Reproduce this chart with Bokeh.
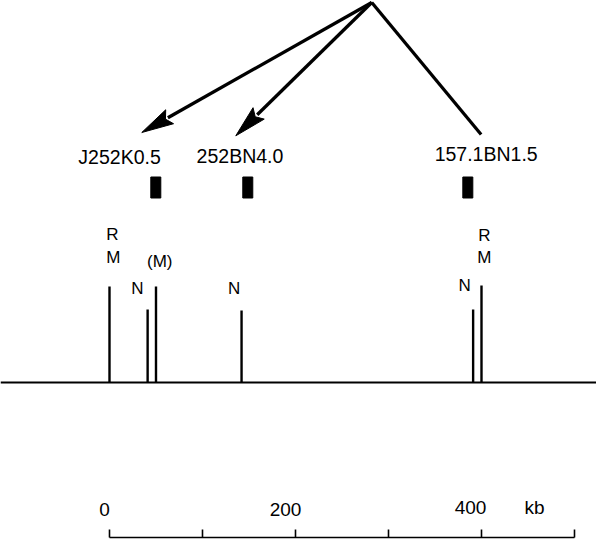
import numpy as np
from bokeh.plotting import figure
from bokeh.models import Range1d, Span, ColumnDataSource
from bokeh.core.properties import value
from bokeh.embed import file_html
from bokeh.resources import INLINE

# ---------------- data ----------------
# restriction sites on the map (kb) and drawn heights
site_kb = [0, 41, 50, 142, 391, 400]
site_height = [96, 73, 96, 72, 73, 97]

# site annotations
site_label_text = ["R", "M", "N", "(M)", "N", "N", "R", "M"]
site_label_kb = [3, 4, 30, 54, 134, 382, 403, 403]
site_label_y = [148, 125, 94, 121, 94, 97, 147, 125]

# probes
probe_names = ["J252K0.5", "252BN4.0", "157.1BN1.5"]
probe_kb = [49.8, 148.7, 385.3]
probe_label_kb = [10.8, 140.3, 405.0]
probe_label_y = [226, 227, 229]

# tree / arrows from apex to probes
apex_kb, apex_y = 282, 380
branch_kb = [34.7, 135.8, 399.6]
branch_y = [250, 246.7, 248]
branch_arrow = [True, True, False]

# scale bar
scale_ticks = [0, 100, 200, 300, 400, 500]
scale_label_text = ["0", "200", "400"]
scale_label_kb = [0, 200, 400]
scale_unit = "kb"

# ---------------- figure ----------------
W, H = 596, 539
X0, X1 = -117.2, 523.66
Y0, Y1 = -157, 382
p = figure(width=W, height=H, output_backend="svg", toolbar_location=None,
           x_range=Range1d(X0, X1), y_range=Range1d(Y0, Y1),
           x_axis_location=None, y_axis_location=None, min_border=0,
           tools="")
p.grid.visible = False
p.outline_line_color = None
p.background_fill_color = "white"

px_per_kb = W / (X1 - X0)
px_per_y = H / (Y1 - Y0)

FONT = value("Liberation Sans")

# baseline
p.add_layout(Span(location=0, dimension="width", line_color="black", line_width=2))

# sites
p.segment(x0=site_kb, y0=[0] * len(site_kb), x1=site_kb, y1=site_height,
          line_color="black", line_width=2.4)

p.text(x=site_label_kb, y=site_label_y, text=site_label_text,
       text_font=FONT, text_font_size="17px", text_align="center",
       text_baseline="middle", text_color="black")

# probe boxes and labels
p.rect(x=probe_kb, y=[195] * len(probe_kb), width=10, height=21,
       width_units="screen", height_units="screen",
       fill_color="black", line_color="black")
p.text(x=probe_label_kb, y=probe_label_y, text=probe_names,
       text_font=FONT, text_font_size="19.5px", text_align="center",
       text_baseline="middle", text_color="black")

# branches with arrowheads
L, HW = 32, 8
seg_x1, seg_y1, heads_x, heads_y = [], [], [], []
for bx, by, arrow in zip(branch_kb, branch_y, branch_arrow):
    dxp = (apex_kb - bx) * px_per_kb
    dyp = (apex_y - by) * px_per_y
    d = np.hypot(dxp, dyp)
    ux, uy = dxp / d, dyp / d
    nx, ny = -uy, ux
    if arrow:
        backx, backy = L * ux, L * uy
        sx = bx + (backx - 2 * ux) / px_per_kb
        sy = by + (backy - 2 * uy) / px_per_y
        seg_x1.append(sx)
        seg_y1.append(sy)
        pts = [(0, 0), (backx + HW * nx, backy + HW * ny),
               (backx * 0.85, backy * 0.85), (backx - HW * nx, backy - HW * ny)]
        heads_x.append([bx + px / px_per_kb for px, _ in pts])
        heads_y.append([by + py / px_per_y for _, py in pts])
    else:
        seg_x1.append(bx)
        seg_y1.append(by)

p.segment(x0=[apex_kb] * len(seg_x1), y0=[apex_y] * len(seg_y1), x1=seg_x1, y1=seg_y1,
          line_color="black", line_width=3.3)
p.patches(xs=heads_x, ys=heads_y, fill_color="black", line_color="black", line_width=1)

# scale bar
BAR_Y = -155
p.segment(x0=[scale_ticks[0]], y0=[BAR_Y], x1=[scale_ticks[-1]], y1=[BAR_Y],
          line_color="black", line_width=1.6)
p.segment(x0=scale_ticks, y0=[BAR_Y] * len(scale_ticks), x1=scale_ticks,
          y1=[BAR_Y + 8] * len(scale_ticks), line_color="black", line_width=1.6)
p.text(x=scale_label_kb, y=[-127, -127, -125], text=scale_label_text,
       x_offset=[-5, -10, -11],
       text_font=FONT, text_font_size="19px", text_align="center",
       text_baseline="middle", text_color="black")
p.text(x=[scale_ticks[-1]], y=[-125], text=[scale_unit], x_offset=[-40],
       text_font=FONT, text_font_size="19px", text_align="center",
       text_baseline="middle", text_color="black")

open("out.html", "w").write(file_html(p, INLINE))
